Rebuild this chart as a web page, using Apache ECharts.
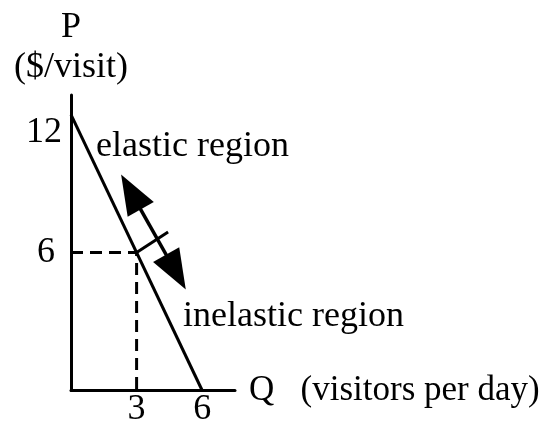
<!DOCTYPE html>
<html>
<head>
<meta charset="utf-8">
<script src="https://cdn.jsdelivr.net/npm/echarts@6/dist/echarts.min.js"></script>
<style>
  html, body { margin: 0; padding: 0; background: #fff; }
  #chart { width: 543px; height: 421px; }
</style>
</head>
<body>
<div id="chart"></div>
<script>
// Demand for park visits: linear demand P = 12 - 2Q
const demandCurve = [[0, 12], [6, 0]];
// Midpoint of the demand curve (Q = 3, P = 6) and its guide lines to the axes
const midpointGuide = [[0, 6], [3, 6], [3, 0]];
// Short divider crossing the curve at the midpoint
const dividerMark = [[3, 6], [4.44, 6.89]];
// Double-headed arrow parallel to the curve (arrowhead centres)
const arrowEnds = [[2.74, 8.63], [4.80, 5.15]];
// Tick labels shown on each axis
const xTickLabels = [3, 6];
const yTickLabels = [6, 12];

const FONT = '"Liberation Serif", "Times New Roman", serif';
const chart = echarts.init(document.getElementById('chart'), null, { renderer: 'canvas' });

const option = {
  animation: false,
  backgroundColor: '#fff',
  grid: { left: 71, right: 308, top: 95, bottom: 30.5, containLabel: false, outerBoundsMode: 'none' },
  xAxis: {
    type: 'value',
    min: 0, max: 7.5, interval: 3,
    name: 'Q   (visitors per day)',
    nameLocation: 'end',
    nameGap: 14,
    nameTextStyle: { fontFamily: FONT, fontSize: 35, color: '#000', verticalAlign: 'middle', padding: [0, 0, 26, 0] },
    axisLine: { lineStyle: { color: '#000', width: 3 } },
    axisTick: { show: false },
    splitLine: { show: false },
    axisLabel: {
      margin: 1,
      fontFamily: FONT, fontSize: 36, color: '#000',
      showMinLabel: true, showMaxLabel: true,
      formatter: v => xTickLabels.includes(v) ? String(v) : ''
    }
  },
  yAxis: {
    type: 'value',
    min: 0, max: 12.85, interval: 6,
    name: 'P\n($/visit)',
    nameLocation: 'end',
    nameGap: 7,
    nameTextStyle: { fontFamily: FONT, fontSize: 36, color: '#000', align: 'center', verticalAlign: 'bottom', lineHeight: 40 },
    axisLine: { lineStyle: { color: '#000', width: 3 } },
    axisTick: { show: false },
    splitLine: { show: false },
    axisLabel: {
      margin: 9,
      fontFamily: FONT, fontSize: 36, color: '#000',
      formatter: v => {
        if (!yTickLabels.includes(v)) return '';
        return v === 12 ? '{top|' + v + '}' : '{mid|' + v + '}';
      },
      rich: {
        top: { fontFamily: FONT, fontSize: 36, color: '#000', padding: [36, 0, 0, 0] },
        mid: { fontFamily: FONT, fontSize: 36, color: '#000', padding: [0, 7, 0, 0] }
      }
    }
  },
  graphic: [
    { type: 'text', left: 96, top: 129, style: { text: 'elastic region', font: '36px ' + FONT, fill: '#000' } },
    { type: 'text', left: 183, top: 299, style: { text: 'inelastic region', font: '36px ' + FONT, fill: '#000' } }
  ],
  series: [
    {
      type: 'line', data: demandCurve, symbol: 'none', silent: true,
      lineStyle: { color: '#000', width: 3 }
    },
    {
      type: 'line', data: midpointGuide, symbol: 'none', silent: true,
      lineStyle: { color: '#000', width: 3, type: [12, 7] }
    },
    {
      type: 'line', data: dividerMark, symbol: 'none', silent: true,
      lineStyle: { color: '#000', width: 3 }
    },
    {
      // arrow shaft
      type: 'line', data: arrowEnds, symbol: 'none', silent: true,
      lineStyle: { color: '#000', width: 3.5 }
    },
    {
      // arrowheads, turned later to point along the shaft
      id: 'heads', type: 'scatter', data: arrowEnds, silent: true,
      symbol: 'triangle', symbolSize: [30, 40],
      itemStyle: { color: '#000', opacity: 1 }
    }
  ]
};
chart.setOption(option);

// Orient each arrowhead outward along the shaft, in screen space
const p0 = chart.convertToPixel({ gridIndex: 0 }, arrowEnds[0]);
const p1 = chart.convertToPixel({ gridIndex: 0 }, arrowEnds[1]);
const dx = p0[0] - p1[0], dy = p0[1] - p1[1];
// triangle points up by default; rotation is counter-clockwise in degrees
const upRot = Math.atan2(-dx, -dy) * 180 / Math.PI;
chart.setOption({
  series: [{ id: 'heads', symbolRotate: (val, params) => params.dataIndex === 0 ? upRot : upRot + 180 }]
});
</script>
</body>
</html>
